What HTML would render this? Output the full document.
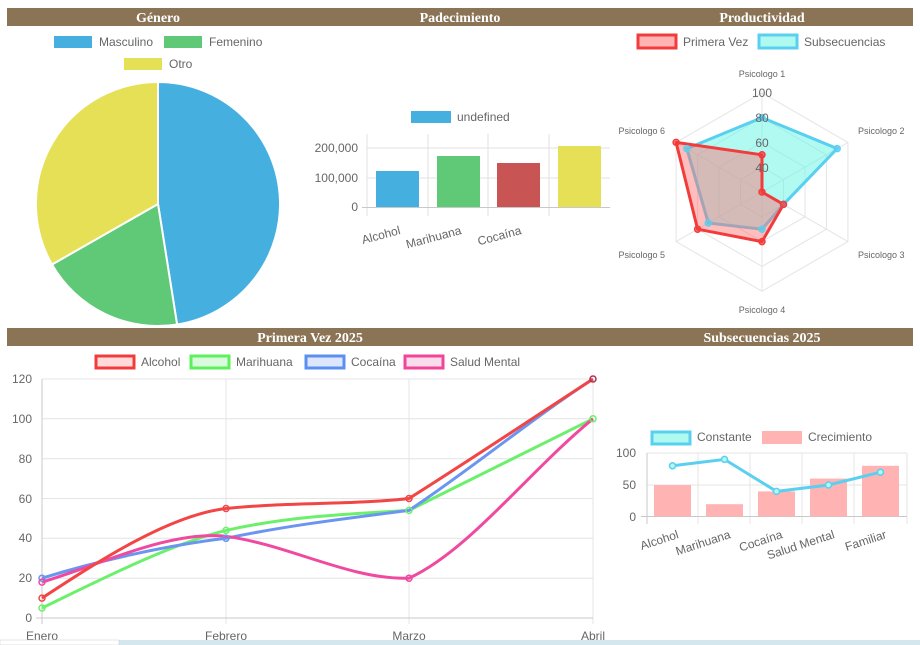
<!DOCTYPE html>
<html><head><meta charset="utf-8"><style>
html,body{margin:0;padding:0;background:#fff;}
svg{display:block;}
text{font-family:"Liberation Sans",sans-serif;fill:#666;}
.h{font-family:"Liberation Serif",serif;font-weight:bold;fill:#fff;font-size:14px;}
</style></head><body>
<svg width="920" height="645" viewBox="0 0 920 645">
<!-- headers -->
<rect x="7" y="8" width="906" height="18" fill="#8b7355"/>
<text class="h" x="158" y="22" text-anchor="middle">Género</text>
<text class="h" x="460" y="22" text-anchor="middle">Padecimiento</text>
<text class="h" x="762" y="22" text-anchor="middle">Productividad</text>
<rect x="7" y="328" width="906" height="18" fill="#8b7355"/>
<text class="h" x="310" y="342" text-anchor="middle">Primera Vez 2025</text>
<text class="h" x="762" y="342" text-anchor="middle">Subsecuencias 2025</text>

<!-- pie legend -->
<rect x="54" y="36" width="38" height="12" fill="#45b0e0"/>
<text x="99" y="46" font-size="12">Masculino</text>
<rect x="164" y="36" width="38" height="12" fill="#5fc978"/>
<text x="209" y="46" font-size="12">Femenino</text>
<rect x="124" y="58" width="38" height="12" fill="#e6e057"/>
<text x="169" y="68" font-size="12">Otro</text>
<!-- pie -->
<path d="M158,204 L158,82 A122,122 0 0 1 177.1,324.5 Z" fill="#45b0e0" stroke="#fff" stroke-width="2"/>
<path d="M158,204 L177.1,324.5 A122,122 0 0 1 52,264.5 Z" fill="#5fc978" stroke="#fff" stroke-width="2"/>
<path d="M158,204 L52,264.5 A122,122 0 0 1 158,82 Z" fill="#e6e057" stroke="#fff" stroke-width="2"/>

<!-- bar chart -->
<rect x="411" y="111" width="40" height="12" fill="#45b0e0"/>
<text x="457" y="121" font-size="12">undefined</text>
<g stroke="#e2e2e2" stroke-width="1">
<line x1="367" y1="148" x2="610" y2="148"/><line x1="367" y1="178" x2="610" y2="178"/>
<line x1="367" y1="134" x2="367" y2="216"/><line x1="428" y1="134" x2="428" y2="216"/>
<line x1="488" y1="134" x2="488" y2="216"/><line x1="549" y1="134" x2="549" y2="216"/>
</g>
<line x1="362" y1="207.5" x2="610" y2="207.5" stroke="#c8c8c8"/>
<text x="358" y="152" font-size="12" text-anchor="end">200,000</text>
<text x="358" y="182" font-size="12" text-anchor="end">100,000</text>
<text x="358" y="211" font-size="12" text-anchor="end">0</text>
<rect x="376" y="171" width="43" height="36" fill="#45b0e0"/>
<rect x="437" y="156" width="43" height="51" fill="#5fc978"/>
<rect x="497" y="163" width="43" height="44" fill="#c95454"/>
<rect x="558" y="146" width="43" height="61" fill="#e6e057"/>
<text font-size="12" transform="translate(400,230) rotate(-15)" text-anchor="end" x="0" y="4">Alcohol</text>
<text font-size="12" transform="translate(461,230) rotate(-15)" text-anchor="end" x="0" y="4">Marihuana</text>
<text font-size="12" transform="translate(521,230) rotate(-15)" text-anchor="end" x="0" y="4">Cocaína</text>

<!-- radar -->
<rect x="638" y="35" width="38" height="13" fill="#ffb3b3" stroke="#f23c3c" stroke-width="3"/>
<text x="683" y="46" font-size="12">Primera Vez</text>
<rect x="759" y="35" width="38" height="13" fill="#aefaf0" stroke="#5bcff0" stroke-width="3"/>
<text x="804" y="46" font-size="12">Subsecuencias</text>
<g fill="none" stroke="#e4e4e4">
<polygon points="762,92.8 847.9,142.4 847.9,241.6 762,291.2 676.1,241.6 676.1,142.4"/>
<polygon points="762,117.6 826.4,154.8 826.4,229.2 762,266.4 697.6,229.2 697.6,154.8"/>
<polygon points="762,142.4 805,167.2 805,216.8 762,241.6 719,216.8 719,167.2"/>
<polygon points="762,167.2 783.5,179.6 783.5,204.4 762,216.8 740.5,204.4 740.5,179.6"/>
<line x1="762" y1="192" x2="762" y2="92.8"/><line x1="762" y1="192" x2="847.9" y2="142.4"/>
<line x1="762" y1="192" x2="847.9" y2="241.6"/><line x1="762" y1="192" x2="762" y2="291.2"/>
<line x1="762" y1="192" x2="676.1" y2="241.6"/><line x1="762" y1="192" x2="676.1" y2="142.4"/>
</g>
<polygon points="762,117.6 837.2,148.6 783.5,204.4 762,229.2 708.3,223 686.8,148.6" fill="rgba(100,245,230,0.5)" stroke="#5bcff0" stroke-width="3"/>
<polygon points="762,154.8 762,192 783.5,204.4 762,241.6 697.6,229.2 676.1,142.4" fill="rgba(255,110,110,0.45)" stroke="#f23c3c" stroke-width="3" stroke-linejoin="round"/>
<g fill="rgba(91,207,240,0.6)" stroke="#5bcff0" stroke-width="1.5">
<circle cx="762" cy="117.6" r="3"/><circle cx="837.2" cy="148.6" r="3"/><circle cx="783.5" cy="204.4" r="3"/><circle cx="762" cy="229.2" r="3"/><circle cx="708.3" cy="223" r="3"/><circle cx="686.8" cy="148.6" r="3"/>
</g>
<g fill="rgba(242,60,60,0.6)" stroke="#f23c3c" stroke-width="1.5">
<circle cx="762" cy="154.8" r="3"/><circle cx="762" cy="192" r="3"/><circle cx="783.5" cy="204.4" r="3"/><circle cx="762" cy="241.6" r="3"/><circle cx="697.6" cy="229.2" r="3"/><circle cx="676.1" cy="142.4" r="3"/>
</g>
<text x="762" y="97" font-size="12" text-anchor="middle">100</text>
<text x="762" y="122" font-size="12" text-anchor="middle">80</text>
<text x="762" y="147" font-size="12" text-anchor="middle">60</text>
<text x="762" y="172" font-size="12" text-anchor="middle">40</text>
<g font-size="9">
<text x="762" y="77" text-anchor="middle">Psicologo 1</text>
<text x="858" y="134">Psicologo 2</text>
<text x="858" y="258">Psicologo 3</text>
<text x="762" y="313" text-anchor="middle">Psicologo 4</text>
<text x="665" y="258" text-anchor="end">Psicologo 5</text>
<text x="665" y="134" text-anchor="end">Psicologo 6</text>
</g>

<!-- line chart -->
<rect x="96" y="356" width="38" height="12" fill="#ffdada" stroke="#f23c3c" stroke-width="3"/>
<text x="141" y="366" font-size="12">Alcohol</text>
<rect x="191" y="356" width="38" height="12" fill="#d9fadd" stroke="#5cf05c" stroke-width="3"/>
<text x="236" y="366" font-size="12">Marihuana</text>
<rect x="306" y="356" width="38" height="12" fill="#dde6fa" stroke="#5b8ff0" stroke-width="3"/>
<text x="351" y="366" font-size="12">Cocaína</text>
<rect x="405" y="356" width="38" height="12" fill="#fadcea" stroke="#f0459a" stroke-width="3"/>
<text x="450" y="366" font-size="12">Salud Mental</text>
<g stroke="#e4e4e4">
<line x1="42" y1="379" x2="593" y2="379"/><line x1="42" y1="418.8" x2="593" y2="418.8"/>
<line x1="42" y1="458.7" x2="593" y2="458.7"/><line x1="42" y1="498.5" x2="593" y2="498.5"/>
<line x1="42" y1="538.3" x2="593" y2="538.3"/><line x1="42" y1="578.2" x2="593" y2="578.2"/>
<line x1="226" y1="379" x2="226" y2="624"/><line x1="409" y1="379" x2="409" y2="624"/><line x1="593" y1="379" x2="593" y2="624"/>
</g>
<line x1="42" y1="379" x2="42" y2="624" stroke="#c8c8c8"/>
<line x1="36" y1="618" x2="593" y2="618" stroke="#c8c8c8"/>
<g font-size="12" text-anchor="end">
<text x="32" y="383">120</text><text x="32" y="423">100</text><text x="32" y="463">80</text>
<text x="32" y="503">60</text><text x="32" y="542">40</text><text x="32" y="582">20</text><text x="32" y="622">0</text>
</g>
<g font-size="12" text-anchor="middle">
<text x="42" y="640">Enero</text><text x="226" y="640">Febrero</text><text x="409" y="640">Marzo</text><text x="593" y="640">Abril</text>
</g>
<g fill="none" stroke-width="3">
<path d="M42,608 C100,580 170,544 226,530.4 C290,516 350,514 409,510.4 C470,480 530,450 593,418.8" stroke="#6cf06c"/>
<path d="M42,578.2 C100,560 170,545 226,538.3 C290,525 350,518 409,510.4 C470,470 530,420 593,379" stroke="#6b95f0"/>
<path d="M42,582.1 C100,565 170,530 226,536.3 C290,545 350,580 409,578.2 C470,550 530,470 593,418.8" stroke="#f04aa0"/>
<path d="M42,598.1 C100,560 170,515 226,508.5 C290,502 350,505 409,498.5 C470,460 530,420 593,379" stroke="#f24545"/>
</g>
<g fill="none" stroke-width="1.5">
<circle cx="42" cy="608" r="3" stroke="#6cf06c"/><circle cx="226" cy="530.4" r="3" stroke="#6cf06c"/><circle cx="409" cy="510.4" r="3" stroke="#6cf06c"/><circle cx="593" cy="418.8" r="3" stroke="#6cf06c"/>
<circle cx="42" cy="578.2" r="3" stroke="#6b95f0"/><circle cx="226" cy="538.3" r="3" stroke="#6b95f0"/>
<circle cx="42" cy="582.1" r="3" stroke="#f04aa0"/><circle cx="409" cy="578.2" r="3" stroke="#f04aa0"/>
<circle cx="42" cy="598.1" r="3" stroke="#f24545"/><circle cx="226" cy="508.5" r="3" stroke="#f24545"/><circle cx="409" cy="498.5" r="3" stroke="#f24545"/><circle cx="593" cy="379" r="3" stroke="#b03050"/>
</g>

<!-- combo chart -->
<rect x="652" y="432" width="38" height="12" fill="#aefaf0" stroke="#5bcff0" stroke-width="3"/>
<text x="697" y="441" font-size="12">Constante</text>
<rect x="762" y="431" width="40" height="13" fill="#ffb3b3"/>
<text x="808" y="441" font-size="12">Crecimiento</text>
<g stroke="#e4e4e4">
<line x1="647" y1="453" x2="907" y2="453"/><line x1="647" y1="485" x2="907" y2="485"/>
<line x1="698" y1="453" x2="698" y2="524"/><line x1="750" y1="453" x2="750" y2="524"/>
<line x1="802" y1="453" x2="802" y2="524"/><line x1="854" y1="453" x2="854" y2="524"/><line x1="907" y1="453" x2="907" y2="524"/>
</g>
<line x1="647" y1="453" x2="647" y2="524" stroke="#c8c8c8"/>
<line x1="641" y1="516.5" x2="907" y2="516.5" stroke="#c8c8c8"/>
<g font-size="12" text-anchor="end"><text x="636" y="457">100</text><text x="636" y="489">50</text><text x="636" y="521">0</text></g>
<g fill="#ffb3b3">
<rect x="654" y="485" width="37" height="31.5"/><rect x="706" y="504.2" width="37" height="12.3"/>
<rect x="758" y="491.4" width="37" height="25.1"/><rect x="810" y="478.6" width="37" height="37.9"/>
<rect x="862" y="465.8" width="37" height="50.7"/>
</g>
<polyline points="672.5,465.8 724.5,459.4 776.5,491.4 828.5,485 880.5,472.2" fill="none" stroke="#5bcff0" stroke-width="3"/>
<g fill="#aefaf0" stroke="#5bcff0" stroke-width="1.5">
<circle cx="672.5" cy="465.8" r="3"/><circle cx="724.5" cy="459.4" r="3"/><circle cx="776.5" cy="491.4" r="3"/><circle cx="828.5" cy="485" r="3"/><circle cx="880.5" cy="472.2" r="3"/>
</g>
<g font-size="12" text-anchor="end">
<text transform="translate(678,534) rotate(-18)" x="0" y="4">Alcohol</text>
<text transform="translate(730,534) rotate(-18)" x="0" y="4">Marihuana</text>
<text transform="translate(782,534) rotate(-18)" x="0" y="4">Cocaína</text>
<text transform="translate(834,534) rotate(-18)" x="0" y="4">Salud Mental</text>
<text transform="translate(886,534) rotate(-18)" x="0" y="4">Familiar</text>
</g>

<!-- bottom strip -->
<rect x="0" y="640" width="920" height="5" fill="#d4e6ee"/>
<rect x="0" y="640" width="119" height="5" fill="#fff" stroke="#ccc" stroke-width="0.5"/>
</svg>
</body></html>
